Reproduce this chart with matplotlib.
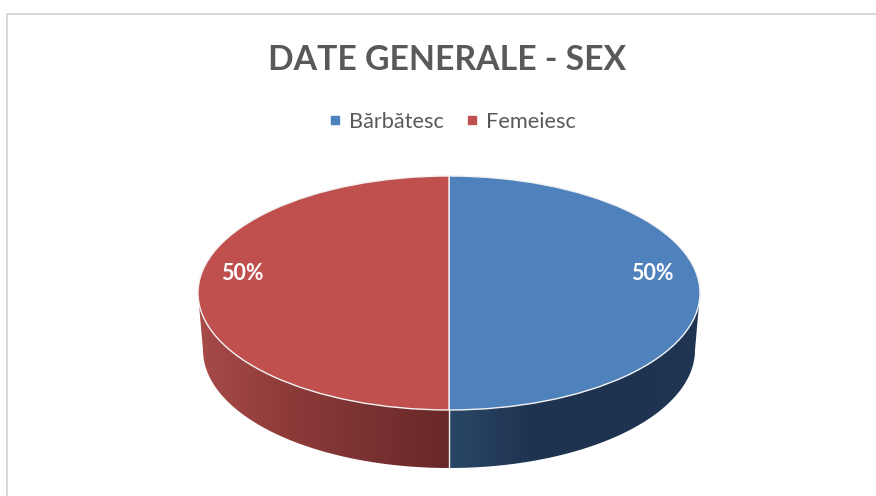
# Pie chart with a fake 3D side, drawn in one axes that is squashed to an ellipse
import numpy as np
import matplotlib
matplotlib.use('Agg')
import matplotlib.pyplot as plt
import matplotlib.lines as mlines
from matplotlib.colors import LinearSegmentedColormap
from matplotlib.patches import Polygon

# Data
title = 'DATE GENERALE - SEX'
categories = ['Bărbătesc', 'Femeiesc']
values = [50, 50]
top_colors = ['#4f81bd', '#c0504d']
side_colors = [['#2a4767', '#1e3350', '#1e3350', '#1f3551'],
               ['#a84b49', '#8f3c3a', '#7a3231', '#682827']]

W, H = 876, 496
dpi = 100
# Top face and base of the pie, in pixels
cx, cy, rx, ry = 449, 293, 251, 117
base_cy, base_rx, base_ry = 350, 246, 118
text_color = '#595959'

plt.rcParams['font.family'] = ['Lato', 'DejaVu Sans']

fig = plt.figure(figsize=(W / dpi, H / dpi), dpi=dpi, facecolor='white')
ax = fig.add_axes([(cx - rx) / W, 1 - (cy + ry) / H, 2 * rx / W, 2 * ry / H])

wedges, _, autotexts = ax.pie(values, startangle=90, counterclock=False, colors=top_colors, radius=1,
                              autopct='%.0f%%', pctdistance=0.81,
                              wedgeprops={'edgecolor': '#f2f2f2', 'linewidth': 1.0, 'zorder': 3},
                              textprops={'color': 'white', 'fontsize': 15.5, 'fontweight': 'bold', 'zorder': 4})
ax.set_aspect('auto')

# Side of the pie: one gradient per slice, clipped to the band between top and base
for wedge, colors in zip(wedges, side_colors):
    # Only the front half of the pie shows a side
    mid = ((wedge.theta1 + wedge.theta2) / 2) % 360
    a1, a2 = (180, 270) if 90 < mid < 270 else (-90, 0)
    t = np.radians(np.linspace(a1, a2, 90))
    x_top, y_top = np.cos(t), np.sin(t)
    x_base = np.cos(t) * base_rx / rx
    y_base = np.sin(t) * base_ry / ry - (base_cy - cy) / ry
    outline = np.vstack([np.column_stack([x_top, y_top]), np.column_stack([x_base, y_base])[::-1]])
    clip = Polygon(outline, closed=True, transform=ax.transData, facecolor='none', edgecolor='none')
    ax.add_patch(clip)
    cmap = LinearSegmentedColormap.from_list('side', colors)
    x0, x1 = outline[:, 0].min(), outline[:, 0].max()
    img = ax.imshow(np.linspace(0, 1, 256).reshape(1, -1), cmap=cmap, aspect='auto', zorder=2,
                    extent=[x0, x1, outline[:, 1].min(), outline[:, 1].max()])
    img.set_clip_path(clip)
    # The side hangs below the axes box, so clip to the figure instead
    img.set_clip_box(fig.bbox)

# Thin white line between the two slices on the side
ax.plot([0, 0], [-1, -1 - (base_cy + base_ry - cy - ry) / ry], color='#f2f2f2', linewidth=1.0, zorder=2.5, clip_on=False)

ax.set_xlim(-1, 1)
ax.set_ylim(-1, 1)

# Labels sit above the middle of each slice
for text, x_pos in zip(autotexts, [0.81, -0.825]):
    text.set_position((x_pos, 0.165))

# Title and legend
fig.text(447 / W, 1 - 60 / H, title, ha='center', va='center', fontsize=24.3, fontweight='bold', color=text_color)
handles = [mlines.Line2D([], [], linestyle='none', marker='s', markersize=6.2, color=c, label=l)
           for c, l in zip(top_colors, categories)]
fig.legend(handles=handles, loc='center', bbox_to_anchor=(444.5 / W, 1 - 122 / H), ncol=2, frameon=False,
           fontsize=15.7, labelcolor=text_color, handletextpad=-0.36, columnspacing=0.28)

# Chart frame, only the top and left edges are inside the crop
fig.add_artist(mlines.Line2D([7 / W, 7 / W], [0, 1 - 14 / H], color='#d9d9d9', linewidth=1.4))
fig.add_artist(mlines.Line2D([7 / W, 1], [1 - 14 / H, 1 - 14 / H], color='#d9d9d9', linewidth=1.4))

fig.savefig('out.png', dpi=dpi)
